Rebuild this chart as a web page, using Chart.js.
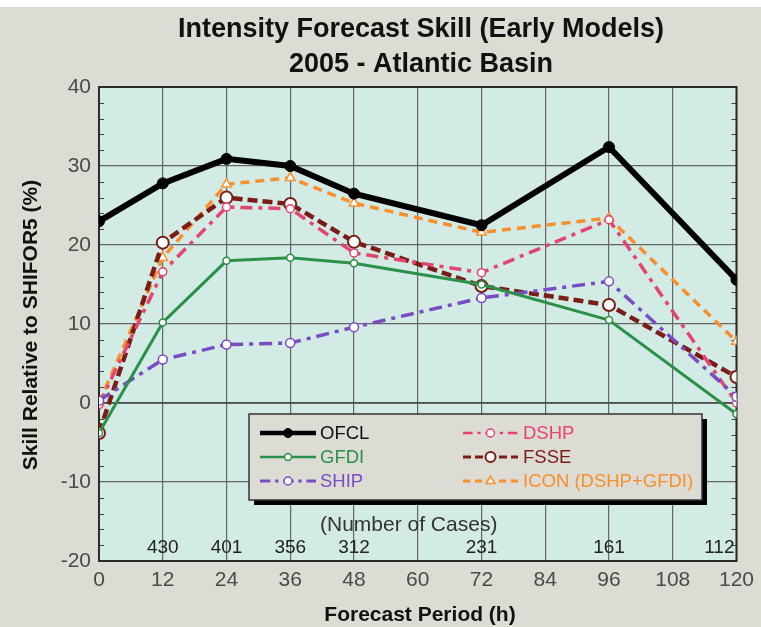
<!DOCTYPE html>
<html><head><meta charset="utf-8">
<script src="https://cdn.jsdelivr.net/npm/chart.js@4/dist/chart.umd.min.js"></script>
<style>html,body{margin:0;padding:0;background:#fff;overflow:hidden}</style>
</head><body>
<canvas id="c" width="761" height="627"></canvas>
<script>
// ---- data ----
const hours = [0, 12, 24, 36, 48, 72, 96, 120];
const ofcl = [23.0, 27.8, 30.9, 30.0, 26.5, 22.5, 32.4, 15.6];
const gfdi = [-3.8, 10.2, 18.0, 18.4, 17.7, 15.0, 10.5, -1.4];
const ship = [0.3, 5.5, 7.4, 7.6, 9.6, 13.3, 15.4, 0.8];
const dshp = [-0.2, 16.6, 24.8, 24.6, 19.0, 16.5, 23.2, 0.0];
const fsse = [-3.8, 20.3, 26.0, 25.2, 20.4, 14.8, 12.4, 3.3];
const icon = [0.0, 18.4, 27.7, 28.5, 25.3, 21.6, 23.4, 7.8];
const caseHours = [12, 24, 36, 48, 72, 96, 120];
const caseCounts = [430, 401, 356, 312, 231, 161, 112];
const seriesNames = ['OFCL', 'GFDI', 'SHIP', 'DSHP', 'FSSE', 'ICON (DSHP+GFDI)'];
const titleLines = ['Intensity Forecast Skill (Early Models)', '2005 - Atlantic Basin'];
const xTitle = 'Forecast Period (h)';
const yTitle = 'Skill Relative to SHIFOR5 (%)';
const casesTitle = '(Number of Cases)';

const FONT = '"Liberation Sans", Arial, Helvetica, sans-serif';
const toXY = arr => hours.map((h, i) => ({x: h, y: arr[i]}));

const styles = [
  {color: '#000000', width: 6, dash: [], pointStyle: 'circle', r: 5.5, fill: '#000000', bw: 1, lw: 4.5, lr: 4.5},
  {color: '#2b9148', width: 3, dash: [], pointStyle: 'circle', r: 3.5, fill: '#ffffff', bw: 1.5, lw: 2.5, lr: 3.5},
  {color: '#7a4cc4', width: 3.5, dash: [13, 6, 4, 6], pointStyle: 'circle', r: 4.5, fill: '#ffffff', bw: 1.5, lw: 3, lr: 4},
  {color: '#e2456e', width: 3.5, dash: [12, 6, 4, 6], pointStyle: 'circle', r: 4, fill: '#ffffff', bw: 1.5, lw: 2.5, lr: 4},
  {color: '#7b1d17', width: 4.5, dash: [10, 5], pointStyle: 'circle', r: 6, fill: '#ffffff', bw: 2, lw: 3, lr: 5},
  {color: '#f7902c', width: 3.5, dash: [9, 6], pointStyle: 'triangle', r: 5.5, fill: '#ffffff', bw: 1.5, lw: 3, lr: 5}
];
const textColors = ['#111111', '#2b9148', '#7a4cc4', '#e2456e', '#7b1d17', '#f7902c'];
const seriesData = [ofcl, gfdi, ship, dshp, fsse, icon];

const datasets = seriesData.map((arr, i) => ({
  label: seriesNames[i],
  data: toXY(arr),
  borderColor: styles[i].color,
  backgroundColor: styles[i].fill,
  borderWidth: styles[i].width,
  borderDash: styles[i].dash,
  pointStyle: styles[i].pointStyle,
  pointRadius: styles[i].r,
  pointBorderWidth: styles[i].bw,
  pointBorderColor: styles[i].color,
  pointBackgroundColor: styles[i].fill,
  tension: 0,
  fill: false,
  order: i
}));

const decor = {
  id: 'decor',
  beforeDraw(chart) {
    const {ctx, chartArea: a} = chart;
    ctx.save();
    ctx.fillStyle = '#ffffff';
    ctx.fillRect(0, 0, chart.width, chart.height);
    ctx.fillStyle = '#dcdcd4';
    ctx.fillRect(0, 7, chart.width, chart.height - 7);
    ctx.fillStyle = '#d3ebe5';
    ctx.fillRect(a.left, a.top, a.right - a.left, a.bottom - a.top);
    ctx.restore();
  },
  beforeDatasetsDraw(chart) {
    const {ctx, chartArea: a, scales: {x, y}} = chart;
    ctx.save();
    ctx.strokeStyle = '#444';
    ctx.lineWidth = 1;
    for (let v = -20; v <= 40; v += 2) {
      if (v % 10 === 0) continue;
      const py = Math.round(y.getPixelForValue(v)) + 0.5;
      ctx.beginPath();
      ctx.moveTo(a.left, py); ctx.lineTo(a.left + 5, py);
      ctx.moveTo(a.right, py); ctx.lineTo(a.right - 5, py);
      ctx.stroke();
    }
    ctx.strokeStyle = '#444';
    ctx.lineWidth = 1.5;
    const zy = y.getPixelForValue(0);
    ctx.beginPath(); ctx.moveTo(a.left, zy); ctx.lineTo(a.right, zy); ctx.stroke();
    ctx.strokeStyle = '#2a2a2a';
    ctx.lineWidth = 2;
    ctx.strokeRect(a.left, a.top, a.right - a.left, a.bottom - a.top);
    ctx.fillStyle = '#222';
    ctx.font = '19px ' + FONT;
    ctx.textBaseline = 'middle';
    caseHours.forEach((h, i) => {
      const px = x.getPixelForValue(h);
      if (h === 120) { ctx.textAlign = 'right'; ctx.fillText(String(caseCounts[i]), px - 2, 548); }
      else { ctx.textAlign = 'center'; ctx.fillText(String(caseCounts[i]), px, 548); }
    });
    ctx.font = '21px ' + FONT;
    ctx.textAlign = 'left';
    ctx.fillStyle = '#333';
    ctx.fillText(casesTitle, 320, 525);
    ctx.restore();
  },
  afterDatasetsDraw(chart) {
    const {ctx} = chart;
    ctx.save();
    const L = 249, T = 414, R = 702, B = 500;
    ctx.fillStyle = '#000';
    ctx.fillRect(L + 5, T + 5, R - L, B - T);
    ctx.fillStyle = '#dcdcd4';
    ctx.fillRect(L, T, R - L, B - T);
    ctx.strokeStyle = '#333';
    ctx.lineWidth = 1.5;
    ctx.strokeRect(L, T, R - L, B - T);
    const cols = [{x0: 260, x1: 316, tx: 320}, {x0: 463, x1: 518, tx: 523}];
    const rows = [433, 457, 481];
    ctx.font = '18.5px ' + FONT;
    ctx.textBaseline = 'middle';
    ctx.textAlign = 'left';
    seriesNames.forEach((name, i) => {
      const c = cols[Math.floor(i / 3)], yy = rows[i % 3], s = styles[i];
      ctx.setLineDash(s.dash.map(d => d * 0.8));
      ctx.strokeStyle = s.color;
      ctx.lineWidth = s.lw;
      ctx.beginPath(); ctx.moveTo(c.x0, yy); ctx.lineTo(c.x1, yy); ctx.stroke();
      ctx.setLineDash([]);
      ctx.fillStyle = s.fill;
      ctx.lineWidth = s.bw;
      Chart.helpers.drawPoint(ctx, {pointStyle: s.pointStyle, radius: s.lr, rotation: 0, borderWidth: s.bw}, (c.x0 + c.x1) / 2, yy);
      ctx.fillStyle = textColors[i];
      ctx.fillText(name, c.tx, yy + 1);
    });
    ctx.restore();
  },
  afterDraw(chart) {
    const {ctx} = chart;
    ctx.save();
    ctx.fillStyle = '#111';
    ctx.textAlign = 'center';
    ctx.textBaseline = 'alphabetic';
    ctx.font = 'bold 27px ' + FONT;
    ctx.fillText(titleLines[0], 421, 37);
    ctx.fillText(titleLines[1], 421, 72);
    ctx.font = 'bold 21px ' + FONT;
    ctx.fillText(xTitle, 420, 621);
    ctx.translate(37, 325);
    ctx.rotate(-Math.PI / 2);
    ctx.fillText(yTitle, 0, 0);
    ctx.restore();
  }
};

new Chart(document.getElementById('c'), {
  type: 'line',
  data: {datasets},
  options: {
    responsive: false,
    animation: false,
    devicePixelRatio: 1,
    layout: {padding: {top: 87, right: 19, left: 0, bottom: 0}},
    plugins: {legend: {display: false}, title: {display: false}, tooltip: {enabled: false}},
    scales: {
      x: {
        type: 'linear', min: 0, max: 120,
        afterFit(s) { s.height = 66; },
        ticks: {stepSize: 12, autoSkip: false, maxRotation: 0, color: '#4a4a4a', padding: 7,
                font: {family: FONT, size: 21}},
        grid: {color: '#666', lineWidth: 1.2, drawTicks: false},
        border: {display: false}
      },
      y: {
        min: -20, max: 40,
        afterFit(s) { s.width = 99; },
        ticks: {stepSize: 10, autoSkip: false, color: '#4a4a4a', padding: 8,
                font: {family: FONT, size: 21}},
        grid: {color: '#666', lineWidth: 1.2, drawTicks: false},
        border: {display: false}
      }
    }
  },
  plugins: [decor]
});
</script>
</body></html>
